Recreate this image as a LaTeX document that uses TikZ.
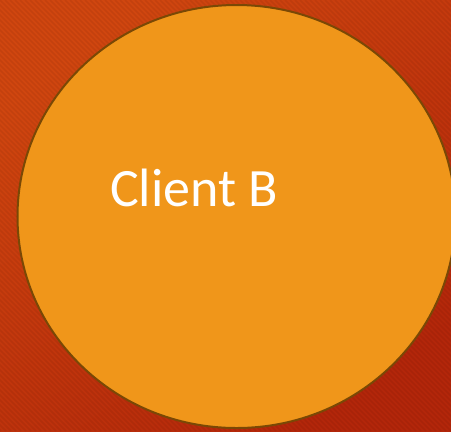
\documentclass[tikz,border=0pt]{standalone}
\usepackage{fontspec}
\setmainfont{Carlito}
\definecolor{bgA}{HTML}{D0460F}
\definecolor{bgB}{HTML}{B3260A}
\definecolor{circfill}{HTML}{F0961A}
\definecolor{circline}{HTML}{7A4805}
\tikzset{
  bubble/.style={ellipse, draw=circline, line width=2bp, fill=circfill, minimum width=438bp, minimum height=423bp, inner sep=0pt},
  stripe/.style={draw=black, draw opacity=0.06, line width=1.6bp},
  label/.style={text=white, font=\fontsize{54bp}{56bp}\selectfont, inner sep=0pt}
}
\usetikzlibrary{shapes.geometric}
\begin{document}
\begin{tikzpicture}[x=1bp,y=-1bp]
\useasboundingbox (0,0) rectangle (451,431);
\shade[top color=bgA, bottom color=bgB, shading angle=35] (0,0) rectangle (451,431);
\begin{scope}
\clip (0,0) rectangle (451,431);
\foreach \k in {-450,-445,...,460} {
  \draw[stripe] (\k,0) -- (\k+431,431);
}
\end{scope}
\node[bubble] (clientB) at (236.5,216.5) {};
\node[label, anchor=base west] (lbl) at (110,206) {Client B};
\end{tikzpicture}
\end{document}
